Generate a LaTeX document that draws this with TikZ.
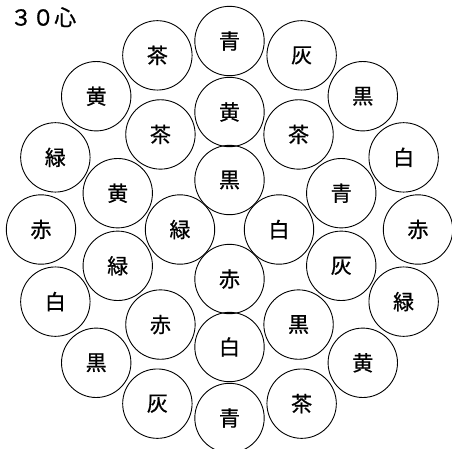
\documentclass[tikz,border=0pt]{standalone}
\usepackage{fontspec}
\newfontfamily\jp[FakeBold=0.8]{Noto Sans CJK JP}

\begin{document}
\begin{tikzpicture}[x=1pt,y=1pt,
  core/.style={draw,circle,line width=0.9pt,minimum size=69.4pt,inner sep=0pt,font=\jp\fontsize{21}{21}\selectfont}]
\useasboundingbox (0,0) rectangle (452,-448);
\node[anchor=north west,inner sep=0pt,font=\jp\fontsize{22}{22}\selectfont] (title) at (10,-7) {３０心};

\begin{scope}[shift={(229.5,-229.5)}]
\foreach \lab [count=\i from 0] in {青,灰,黒,白,赤,緑,黄,茶,青,灰,黒,白,赤,緑,黄,茶}
  \node[core] (out\i) at ({90-22.5*\i}:188.5) {\lab};
\foreach \lab [count=\i from 0] in {黄,茶,青,灰,黒,白,赤,緑,黄,茶}
  \node[core] (mid\i) at ({90-36*\i}:117.5) {\lab};
\foreach \lab [count=\i from 0] in {黒,白,赤,緑}
  \node[core] (in\i) at ({90-90*\i}:49.5) {\lab};
\end{scope}
\end{tikzpicture}
\end{document}
